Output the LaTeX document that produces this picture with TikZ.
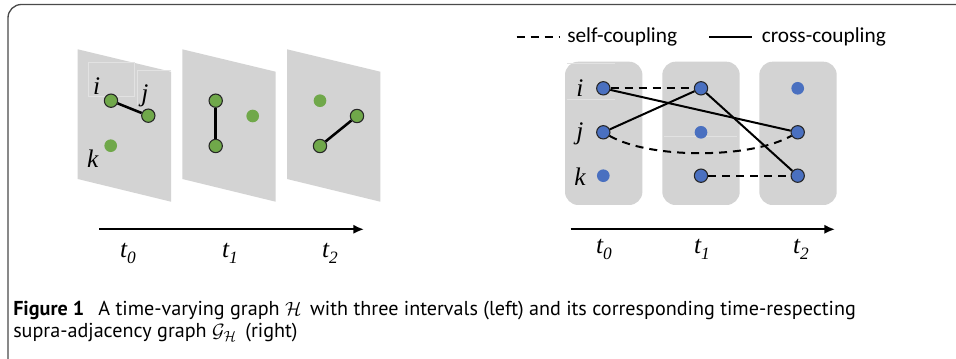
\documentclass[tikz,border=0pt]{standalone}
\usepackage{fontspec}
\setmainfont{Liberation Serif}
\newfontfamily\legfont{Carlito}
\newfontfamily\capfont{PT Sans}
\usetikzlibrary{arrows.meta}
\definecolor{panelgray}{HTML}{D3D3D3}
\definecolor{faint}{HTML}{E2E2E2}
\definecolor{gdot}{HTML}{70A84A}
\definecolor{bdot}{HTML}{4A70C0}
\definecolor{framecol}{HTML}{4A4A4A}
\tikzset{
  gnode/.style={circle,fill=gdot,draw=black!85,line width=0.8pt,minimum size=10pt,inner sep=0pt},
  gplain/.style={circle,fill=gdot,minimum size=9.5pt,inner sep=0pt},
  bnode/.style={circle,fill=bdot,draw=black!85,line width=0.8pt,minimum size=10pt,inner sep=0pt},
  bplain/.style={circle,fill=bdot,minimum size=9.5pt,inner sep=0pt},
  lab/.style={font=\fontsize{19}{21}\selectfont\itshape,inner sep=0pt},
  tlab/.style={font=\fontsize{19}{21}\selectfont\itshape,inner sep=0pt,anchor=base},
  edge/.style={line width=1.9pt},
  redge/.style={line width=1.5pt},
  sdash/.style={line width=1.5pt,dash pattern=on 6pt off 4.5pt},
  timearrow/.style={line width=1.5pt,-{Latex[length=8pt,width=7pt]}},
  legtext/.style={font=\legfont\fontsize{16}{18}\selectfont,inner sep=0pt,anchor=base west},
  captext/.style={font=\capfont\fontsize{15.1}{17}\selectfont,inner sep=0pt,anchor=base west},
}
\newcommand{\tsub}[1]{t\raisebox{-0.45ex}{\fontsize{13}{14}\selectfont #1}}
\begin{document}
\begin{tikzpicture}[x=0.75pt,y=-0.75pt]
\useasboundingbox (0,0) rectangle (956,359);
% frame
\begin{scope}
\clip (0,0) rectangle (956,359);
\draw[framecol,line width=1pt,rounded corners=10pt] (8,4.5) rectangle (1000,372);
\end{scope}

% ---------- left: panels ----------
\foreach \dx in {0,104.6,209.3}{
  \fill[panelgray] (77.7+\dx,49.3) -- (171+\dx,71.7) -- (171+\dx,201.7) -- (77.7+\dx,179) -- cycle;
}
\draw[faint,line width=0.5pt] (88.3,62.3) rectangle (134,96.7);
\draw[faint,line width=0.5pt] (137.3,70.7) -- (171,70.7) (137.3,70.7) -- (137.3,105);

% panel t0
\node[gnode] (a0i) at (111,100.7) {};
\node[gnode] (a0j) at (148.3,115.7) {};
\node[gplain] (a0k) at (110.7,145.7) {};
\draw[edge] (a0i) -- (a0j);
\node[lab] (li) at (96.7,86) {i};
\node[lab] (lj) at (145,96) {j};
\node[lab] (lk) at (92.7,159) {k};
% panel t1
\node[gnode] (a1i) at (215.7,100.7) {};
\node[gnode] (a1k) at (215.7,146) {};
\node[gplain] (a1j) at (252.7,116) {};
\draw[edge] (a1i) -- (a1k);
% panel t2
\node[gplain] (a2i) at (320,100.7) {};
\node[gnode] (a2j) at (357,116) {};
\node[gnode] (a2k) at (320,146) {};
\draw[edge] (a2k) -- (a2j);

% time arrow left
\coordinate (la0) at (99,229.3);
\coordinate (la1) at (364,229.3);
\draw[timearrow] (la0) -- (la1);
\node[tlab] (lt0) at (128,258) {\tsub{0}};
\node[tlab] (lt1) at (230,258) {\tsub{1}};
\node[tlab] (lt2) at (330,258) {\tsub{2}};

% ---------- right ----------
% legend
\coordinate (d0) at (516.7,36.7);
\coordinate (d1) at (560,36.7);
\draw[sdash] (d0) -- (d1);
\node[legtext] (ls) at (567,43) {self-coupling};
\coordinate (s0) at (709.3,36.7);
\coordinate (s1) at (751.7,36.7);
\draw[redge] (s0) -- (s1);
\node[legtext] (lc) at (761.5,43) {cross-coupling};

% boxes
\foreach \x in {565,662.3,759.3}{
  \fill[panelgray,rounded corners=10pt] (\x,61.7) rectangle (\x+77.4,205);
}
\draw[faint,line width=0.4pt] (567,63) -- (615,63) (567,99) -- (615,99) (664,136) -- (737,136);

% nodes
\node[bnode] (b0i) at (603.3,88.3) {};
\node[bnode] (b0j) at (603.3,132.3) {};
\node[bplain] (b0k) at (603.3,175.7) {};
\node[bnode] (b1i) at (701,88.3) {};
\node[bplain] (b1j) at (701,132.3) {};
\node[bnode] (b1k) at (701,175.7) {};
\node[bplain] (b2i) at (797.7,88.3) {};
\node[bnode] (b2j) at (797.7,132.3) {};
\node[bnode] (b2k) at (797.7,175.7) {};

\node[lab] (ri) at (580,88) {i};
\node[lab] (rj) at (580,134) {j};
\node[lab] (rk) at (580,177) {k};

% couplings
\draw[sdash] (b0i) -- (b1i);
\draw[sdash] (b1k) -- (b2k);
\draw[sdash] (b0j) .. controls (650,159) and (750,159) .. (b2j);
\draw[redge] (b0i) -- (b2j);
\draw[redge] (b0j) -- (b1i);
\draw[redge] (b1i) -- (b2k);

% time arrow right
\coordinate (ra0) at (570.7,229.3);
\coordinate (ra1) at (835,229.3);
\draw[timearrow] (ra0) -- (ra1);
\node[tlab] (rt0) at (604,254) {\tsub{0}};
\node[tlab] (rt1) at (702,254) {\tsub{1}};
\node[tlab] (rt2) at (801,254) {\tsub{2}};

% caption
\node[captext] (cap1) at (13,316) {\textbf{Figure 1}\hspace{0.7em}A time-varying graph $\mathcal{H}$\, with three intervals (left) and its corresponding time-respecting};
\node[captext] (cap2) at (13,338) {supra-adjacency graph $\mathcal{G}_{\mathcal{H}}$\, (right)};
\end{tikzpicture}
\end{document}
